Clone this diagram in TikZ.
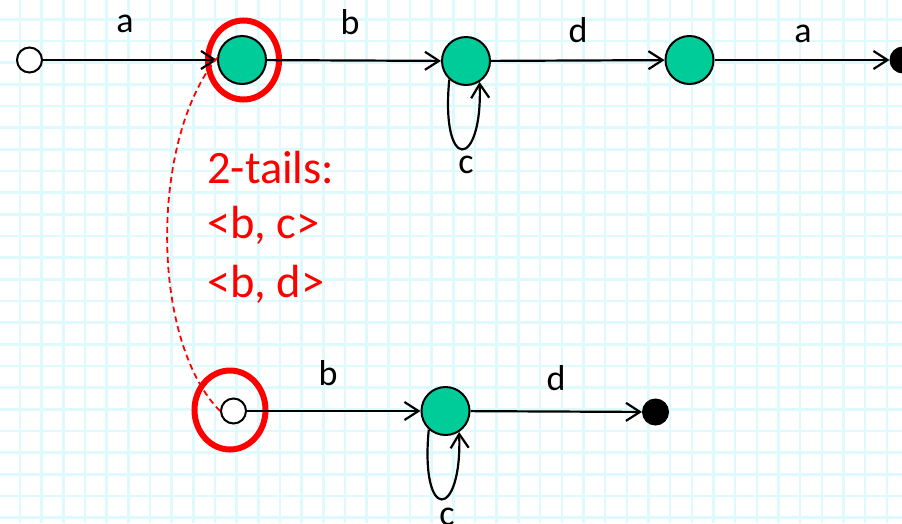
\documentclass[tikz,border=0pt]{standalone}
\usepackage{fontspec}
\setmainfont{Carlito}
\usetikzlibrary{arrows.meta,shapes.geometric}
\definecolor{gridc}{RGB}{222,250,252}
\definecolor{stgreen}{RGB}{0,204,153}
\definecolor{hlred}{RGB}{255,0,0}
\tikzset{
  gstate/.style={circle,draw=black,fill=stgreen,line width=2pt,minimum size=48pt,inner sep=0pt},
  ostate/.style={circle,draw=black,fill=white,line width=2pt,minimum size=25pt,inner sep=0pt},
  fstate/.style={circle,draw=black,fill=black,line width=1pt,minimum size=26pt,inner sep=0pt},
  hl/.style={ellipse,draw=hlred,line width=6pt,minimum width=71pt,minimum height=79pt,inner sep=0pt},
  tr/.style={draw=black,line width=2.2pt,-{Straight Barb[length=14pt,width=18pt]}},
  lbl/.style={font=\fontsize{36}{40}\selectfont,anchor=base,inner sep=0pt},
  redtxt/.style={font=\fontsize{46.5}{50}\selectfont,text=hlred,anchor=base west,inner sep=0pt},
}
\begin{document}
\begin{tikzpicture}[x=1pt,y=-1pt]
\useasboundingbox (0,0) rectangle (902,523);
\clip (0,0) rectangle (902,523);
\fill[white] (0,0) rectangle (902,523);
% grid
\foreach \k in {0,...,41} {
  \draw[gridc,line width=2.5pt] ({20+21.67*\k},0) -- ({20+21.67*\k},523);
}
\foreach \k in {0,...,24} {
  \draw[gridc,line width=2.5pt] (0,{19.3+21.67*\k}) -- (902,{19.3+21.67*\k});
}
% red highlight ellipses
\node[hl] (h1) at (243.5,60) {};
\node[hl] (h2) at (230,410) {};
% top row
\node[ostate] (s0) at (29.5,60) {};
\node[gstate] (g1) at (242,60) {};
\node[gstate] (g2) at (466,61) {};
\node[gstate] (g3) at (689.5,60) {};
\node[fstate] (f1) at (903,60) {};
% bottom row
\node[ostate] (b0) at (233.5,411) {};
\node[gstate] (b1) at (445.5,411) {};
\node[fstate] (f2) at (655.5,412) {};
% transitions
\draw[tr] (s0) -- (g1);
\draw[tr] (g1) -- (g2);
\draw[tr] (g2) -- (g3);
\draw[tr] (g3) -- (f1);
\draw[tr] (b0) -- (b1);
\draw[tr] (b1) -- (f2);
% loops
\draw[tr] (g2.228) .. controls +(-9,94) and +(3,88) .. (g2.-57);
\draw[tr] (b1.228) .. controls +(-9,94) and +(3,88) .. (b1.-57);
% labels
\node[lbl] (la1) at (125,32) {a};
\node[lbl] (lb1) at (350,34) {b};
\node[lbl] (ld1) at (578,42) {d};
\node[lbl] (la2) at (803,42) {a};
\node[lbl] (lc1) at (466,173) {c};
\node[lbl] (lb2) at (328,385) {b};
\node[lbl] (ld2) at (556,390) {d};
\node[lbl] (lc2) at (447,525) {c};
% dashed link
\draw[hlred,line width=1.8pt,dash pattern=on 6pt off 4pt] (b0.180) .. controls (150,340) and (150,140) .. (g1.175);
% red text
\node[redtxt] (t1) at (207,183) {2-tails:};
\node[redtxt] (t2) at (207,238) {<b, c>};
\node[redtxt] (t3) at (207,297) {<b, d>};
\end{tikzpicture}
\end{document}
